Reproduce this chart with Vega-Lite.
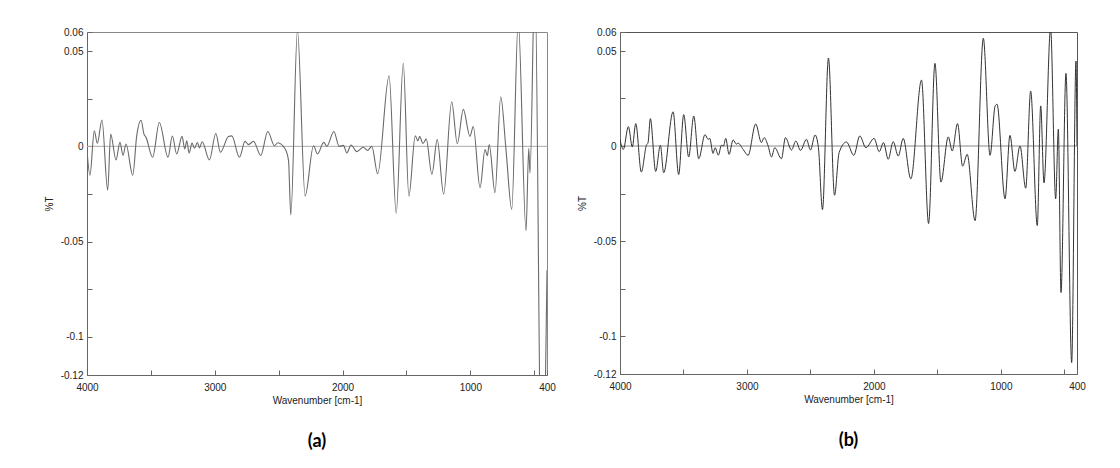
{
 "$schema": "https://vega.github.io/schema/vega-lite/v6.json",
 "background": "white",
 "padding": {"left": 43, "top": 26, "right": 5, "bottom": 5},
 "datasets": {
  "a": [
   {"wn":4000,"t":-0.002},{"wn":3977,"t":-0.0152},{"wn":3943,"t":0.0081},{"wn":3919,"t":0.0016},{"wn":3883,"t":0.0138},{"wn":3838,"t":-0.023},{"wn":3815,"t":0.0064},{"wn":3773,"t":-0.0071},{"wn":3742,"t":0.0021},{"wn":3718,"t":-0.0048},{"wn":3695,"t":0.0012},{"wn":3642,"t":-0.0152},{"wn":3611,"t":0.0055},{"wn":3577,"t":0.0137},{"wn":3554,"t":0.0064},{"wn":3538,"t":0.0047},{"wn":3486,"t":-0.0057},{"wn":3434,"t":0.0125},{"wn":3366,"t":-0.0057},{"wn":3332,"t":0.0054},{"wn":3298,"t":-0.004},{"wn":3256,"t":0.0052},{"wn":3235,"t":-0.0014},{"wn":3219,"t":0.0029},{"wn":3201,"t":-0.0035},{"wn":3178,"t":0.0017},{"wn":3159,"t":-0.001},{"wn":3136,"t":0.002},{"wn":3120,"t":-0.0008},{"wn":3099,"t":0.0024},{"wn":3042,"t":-0.0071},{"wn":2992,"t":0.0067},{"wn":2956,"t":-0.0031},{"wn":2893,"t":0.0052},{"wn":2867,"t":0.0055},{"wn":2807,"t":-0.0057},{"wn":2763,"t":0.0026},{"wn":2736,"t":0.0009},{"wn":2697,"t":0.0026},{"wn":2640,"t":-0.0048},{"wn":2585,"t":0.0078},{"wn":2533,"t":0.0003},{"wn":2507,"t":0.0019},{"wn":2449,"t":-0.0014},{"wn":2423,"t":-0.0074},{"wn":2405,"t":-0.036},{"wn":2353,"t":0.061},{"wn":2293,"t":-0.0261},{"wn":2227,"t":0.0003},{"wn":2196,"t":-0.004},{"wn":2147,"t":0.0021},{"wn":2123,"t":0},{"wn":2068,"t":0.0078},{"wn":2027,"t":0},{"wn":1993,"t":0.0005},{"wn":1967,"t":-0.0035},{"wn":1933,"t":0.0007},{"wn":1889,"t":-0.0028},{"wn":1837,"t":-0.0005},{"wn":1805,"t":-0.0022},{"wn":1771,"t":0},{"wn":1725,"t":-0.0144},{"wn":1636,"t":0.037},{"wn":1580,"t":-0.0351},{"wn":1525,"t":0.0436},{"wn":1481,"t":-0.0261},{"wn":1431,"t":0.0055},{"wn":1410,"t":0.0029},{"wn":1397,"t":0.0052},{"wn":1371,"t":0.0015},{"wn":1345,"t":0.0038},{"wn":1301,"t":-0.0147},{"wn":1259,"t":0.0035},{"wn":1209,"t":-0.0251},{"wn":1146,"t":0.0234},{"wn":1102,"t":0.0014},{"wn":1055,"t":0.0194},{"wn":1003,"t":0.0052},{"wn":977,"t":0.0104},{"wn":924,"t":-0.0217},{"wn":885,"t":-0.0017},{"wn":867,"t":-0.0049},{"wn":852,"t":0.0009},{"wn":807,"t":-0.0243},{"wn":762,"t":0.026},{"wn":721,"t":-0.0017},{"wn":676,"t":-0.033},{"wn":625,"t":0.066},{"wn":564,"t":-0.0443},{"wn":543,"t":-0.001},{"wn":533,"t":-0.014},{"wn":495,"t":0.09},{"wn":440,"t":-0.2},{"wn":400,"t":-0.065}
  ],
  "b": [
   {"wn":4000,"t":0.0032},{"wn":3974,"t":-0.0018},{"wn":3934,"t":0.0102},{"wn":3903,"t":-0.0005},{"wn":3876,"t":0.0118},{"wn":3832,"t":-0.0137},{"wn":3792,"t":0.0004},{"wn":3779,"t":0.0018},{"wn":3761,"t":0.0144},{"wn":3719,"t":-0.0134},{"wn":3682,"t":0.0004},{"wn":3656,"t":-0.0141},{"wn":3582,"t":0.018},{"wn":3538,"t":-0.015},{"wn":3498,"t":0.0165},{"wn":3459,"t":-0.0058},{"wn":3419,"t":0.0158},{"wn":3380,"t":-0.0067},{"wn":3330,"t":0.006},{"wn":3306,"t":0.0035},{"wn":3293,"t":0.004},{"wn":3267,"t":-0.0039},{"wn":3251,"t":-0.0009},{"wn":3225,"t":-0.0048},{"wn":3201,"t":0.0004},{"wn":3185,"t":0.0},{"wn":3167,"t":0.004},{"wn":3141,"t":-0.0044},{"wn":3109,"t":0.0032},{"wn":3083,"t":0.001},{"wn":3070,"t":0.0015},{"wn":3030,"t":-0.0018},{"wn":2991,"t":-0.0049},{"wn":2931,"t":0.0116},{"wn":2886,"t":0.0018},{"wn":2865,"t":0.0044},{"wn":2833,"t":0},{"wn":2807,"t":-0.0058},{"wn":2781,"t":-0.0009},{"wn":2728,"t":-0.0067},{"wn":2697,"t":0.0044},{"wn":2649,"t":-0.0021},{"wn":2615,"t":0.0026},{"wn":2578,"t":-0.0023},{"wn":2531,"t":0.0035},{"wn":2500,"t":-0.0021},{"wn":2463,"t":0.0058},{"wn":2437,"t":-0.0009},{"wn":2405,"t":-0.0335},{"wn":2358,"t":0.0463},{"wn":2310,"t":-0.0259},{"wn":2274,"t":-0.0035},{"wn":2216,"t":0.0021},{"wn":2158,"t":-0.0049},{"wn":2111,"t":0.0053},{"wn":2063,"t":-0.0009},{"wn":1998,"t":0.004},{"wn":1958,"t":-0.003},{"wn":1924,"t":0.0018},{"wn":1887,"t":-0.007},{"wn":1848,"t":0.0023},{"wn":1808,"t":-0.0053},{"wn":1769,"t":0.004},{"wn":1709,"t":-0.0173},{"wn":1625,"t":0.0347},{"wn":1569,"t":-0.0408},{"wn":1519,"t":0.0435},{"wn":1472,"t":-0.019},{"wn":1414,"t":0.0048},{"wn":1383,"t":-0.0026},{"wn":1341,"t":0.0118},{"wn":1301,"t":-0.0106},{"wn":1265,"t":-0.0044},{"wn":1203,"t":-0.0393},{"wn":1138,"t":0.0567},{"wn":1085,"t":-0.0049},{"wn":1045,"t":0.021},{"wn":1030,"t":0.022},{"wn":967,"t":-0.0278},{"wn":928,"t":0.0056},{"wn":889,"t":-0.0134},{"wn":849,"t":0},{"wn":804,"t":-0.0222},{"wn":765,"t":0.0289},{"wn":713,"t":-0.0419},{"wn":686,"t":0.0211},{"wn":660,"t":-0.0194},{"wn":608,"t":0.062},{"wn":568,"t":-0.0278},{"wn":547,"t":0.0088},{"wn":526,"t":-0.0771},{"wn":487,"t":0.0382},{"wn":442,"t":-0.114},{"wn":408,"t":0.0447},{"wn":400,"t":0.0}
  ],
  "zero": [{"t": 0}]
 },
 "spacing": 73,
 "bounds": "flush",
 "hconcat": [
  {
   "width": 460, "height": 343,
   "view": {"stroke": "#888888"},
   "title": {"text": "(a)", "orient": "bottom", "offset": 28},
   "layer": [
    {"data": {"name": "zero"}, "mark": {"type": "rule", "color": "#aaaaaa", "strokeWidth": 1}, "encoding": {"y": {"field": "t", "type": "quantitative"}}},
    {"data": {"name": "a"}, "mark": {"type": "line", "interpolate": "monotone", "clip": true, "color": "#6a6a6a", "strokeWidth": 1.1},
     "encoding": {
      "x": {"field": "wn", "type": "quantitative", "title": "Wavenumber [cm-1]", "scale": {"domain": [400, 4000], "reverse": true, "nice": false, "zero": false},
            "axis": {"values": [4000,3500,3000,2500,2000,1500,1000,500,400], "labelExpr": "datum.value==4000||datum.value==3000||datum.value==2000||datum.value==1000||datum.value==400 ? datum.value+'' : ''"}},
      "y": {"field": "t", "type": "quantitative", "title": "%T", "scale": {"domain": [-0.12, 0.06], "nice": false, "zero": false},
            "axis": {"values": [0.06,0.05,0.025,0,-0.025,-0.05,-0.075,-0.1,-0.12], "labelExpr": "datum.value==0.025||datum.value==-0.025||datum.value==-0.075 ? '' : datum.value+''"}}
     }}
   ]
  },
  {
   "width": 457, "height": 342,
   "view": {"stroke": "#555555"},
   "title": {"text": "(b)", "orient": "bottom", "offset": 28},
   "layer": [
    {"data": {"name": "zero"}, "mark": {"type": "rule", "color": "#888888", "strokeWidth": 1}, "encoding": {"y": {"field": "t", "type": "quantitative"}}},
    {"data": {"name": "b"}, "mark": {"type": "line", "interpolate": "monotone", "clip": true, "color": "#333333", "strokeWidth": 1},
     "encoding": {
      "x": {"field": "wn", "type": "quantitative", "title": "Wavenumber [cm-1]", "scale": {"domain": [400, 4000], "reverse": true, "nice": false, "zero": false},
            "axis": {"values": [4000,3500,3000,2500,2000,1500,1000,500,400], "labelExpr": "datum.value==4000||datum.value==3000||datum.value==2000||datum.value==1000||datum.value==400 ? datum.value+'' : ''"}},
      "y": {"field": "t", "type": "quantitative", "title": "%T", "scale": {"domain": [-0.12, 0.06], "nice": false, "zero": false},
            "axis": {"values": [0.06,0.05,0.025,0,-0.025,-0.05,-0.075,-0.1,-0.12], "labelExpr": "datum.value==0.025||datum.value==-0.025||datum.value==-0.075 ? '' : datum.value+''"}}
     }}
   ]
  }
 ],
 "config": {
  "font": "Liberation Sans",
  "axis": {"grid": false, "tickSize": -5, "labelFontSize": 10, "titleFontSize": 10, "titleFontWeight": "normal", "labelColor": "#222222", "titleColor": "#222222", "domainColor": "#666666", "tickColor": "#666666", "labelFlush": false, "labelOverlap": false},
  "axisX": {"titlePadding": 3, "labelPadding": 12},
  "axisY": {"titlePadding": 6, "labelPadding": 9},
  "title": {"font": "Lato", "fontSize": 18, "fontWeight": "bold", "color": "#000000", "anchor": "middle"}
 }
}
